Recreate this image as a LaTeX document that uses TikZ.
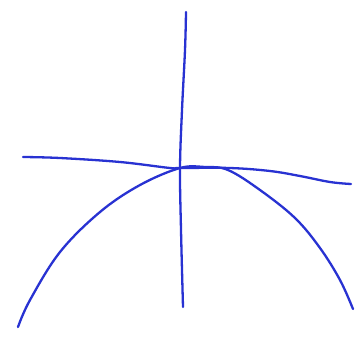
\documentclass[tikz,border=0pt]{standalone}
\begin{document}
\begin{tikzpicture}[x=1pt,y=-1pt,
  ink/.style={draw={rgb,255:red,40;green,50;blue,210},line width=2.3pt,line cap=round,line join=round}]
\useasboundingbox[fill=white] (0,0) rectangle (358,338);
\draw[ink] plot[smooth,tension=0.6] coordinates {(186,12) (185,50) (182,110) (180,168) (181,230) (183,307)};
\draw[ink] plot[smooth,tension=0.6] coordinates {(23,157) (60,158) (120,162) (170,168) (180,168) (230,168) (270,171) (300,176) (330,182) (351,184)};
\draw[ink] plot[smooth,tension=0.6] coordinates {(18,327) (30,300) (60,252) (100,212) (140,185) (180,168) (205,167) (228,170) (260,190) (295,218) (320,248) (340,280) (353,309)};
\end{tikzpicture}
\end{document}
